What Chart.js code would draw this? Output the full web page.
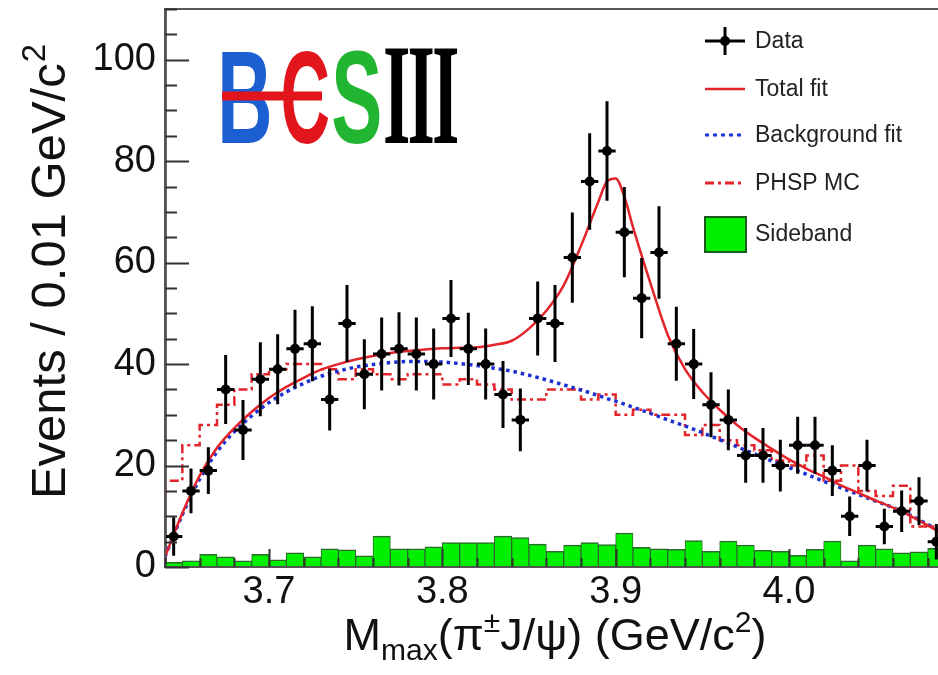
<!DOCTYPE html>
<html><head><meta charset="utf-8">
<script src="https://cdn.jsdelivr.net/npm/chart.js@4/dist/chart.umd.min.js"></script>
<style>
html,body{margin:0;padding:0;background:#fff;overflow:hidden;width:938px;height:675px}
#wrap{position:absolute;left:0;top:0;width:950px;height:675px}
</style>
</head><body><div id="wrap"><canvas id="c" width="950" height="675"></canvas></div>
<script>
// ---------- data ----------
const massBins = [3.645,3.655,3.665,3.675,3.685,3.695,3.705,3.715,3.725,3.735,
                  3.745,3.755,3.765,3.775,3.785,3.795,3.805,3.815,3.825,3.835,
                  3.845,3.855,3.865,3.875,3.885,3.895,3.905,3.915,3.925,3.935,
                  3.945,3.955,3.965,3.975,3.985,3.995,4.005,4.015,4.025,4.035,
                  4.045,4.055,4.065,4.075,4.085];
const dataEvents = [6,15,19,35,27,37,39,43,44,33,
                    48,38,42,43,42,40,49,43,40,34,
                    29,49,48,61,76,82,66,53,62,44,
                    40,32,29,22,22,20,24,24,19,10,
                    20,8,11,13,5];
const dataErrors = [3.8,4.4,4.6,6.8,5.9,7.3,6.9,7.7,7.4,6.1,
                    7.6,6.9,7.2,7.2,7.2,7.0,7.6,7.1,7.0,6.6,
                    6.2,7.3,7.6,8.9,9.5,9.8,8.9,7.9,9.1,7.3,
                    6.9,6.4,6.0,5.4,5.4,5.1,5.6,5.6,5.0,3.9,
                    5.1,3.5,4.1,4.7,3.5];
const phspMC = [14,17,24,28,32,35,38,39,40,40,
                39,37,39,38,37,38,38,36,37,36,
                35,33,33,35,35,33,34,30,31,30,
                30,26,28,25,24,23,21,20,22,17,
                20,15,14,16,8];
const sideband = [0.9,1.2,2.5,2.0,1.2,2.5,1.4,2.8,2.0,3.6,
                  3.4,2.2,6.1,3.6,3.6,4.0,4.8,4.8,4.8,6.1,
                  5.8,4.5,3.1,4.3,4.8,4.4,6.7,3.9,3.6,3.5,
                  5.2,3.1,5.1,4.3,3.3,3.1,2.3,3.5,5.1,1.2,
                  4.3,3.6,2.8,3.0,3.7];
const fitMass = [3.64,3.65,3.66,3.67,3.68,3.69,3.70,3.71,3.72,3.73,
                 3.74,3.75,3.76,3.77,3.78,3.79,3.80,3.81,3.82,3.83,
                 3.84,3.85,3.86,3.87,3.88,3.89,3.895,3.90,3.905,3.91,
                 3.92,3.93,3.94,3.95,3.96,3.97,3.98,3.99,4.00,4.01,
                 4.02,4.03,4.04,4.05,4.06,4.07,4.08,4.09];
const totalFit = [2,10.6,18,23.5,27.4,30.6,33.3,35.5,37.3,38.9,
                  40.0,40.9,41.6,42.2,42.6,42.9,43.1,43.2,43.3,43.8,
                  44.6,47,50.5,55.5,63.3,72,76,76.6,73,67,
                  56,45.8,39,34.5,31,28,25.5,23.3,21.2,19.4,
                  17.8,16.1,14.6,13.1,11.7,10.1,8.2,6.3];
const backgroundFit = [2,10.3,17.3,22.7,26.7,29.8,32.4,34.5,36.2,37.6,
                       38.6,39.4,39.9,40.3,40.5,40.5,40.4,40.1,39.7,39.2,
                       38.6,37.8,36.9,35.9,34.9,33.8,33.2,32.7,32.1,31.5,
                       30.3,29.0,27.8,26.5,25.1,23.7,22.3,20.9,19.6,18.3,
                       16.9,15.6,14.3,13.0,11.7,10.2,8.4,6.5];
const binWidth = 0.01;
const xTickValues = [3.7,3.8,3.9,4.0];
const yTickValues = [0,20,40,60,80,100];
const seriesNames = ['Data','Total fit','Background fit','PHSP MC','Sideband'];
const xTitleParts = ['M','max','(π','±','J/ψ) (GeV/c','2',')'];
const yTitleParts = ['Events / 0.01 GeV/c','2'];
const logoParts = ['B','C','S','III'];

// ---------- derived drawing structures ----------
const pts = (xs, ys) => xs.map((x, i) => ({x, y: ys[i]}));
const stepPts = ys => {
  const a = massBins.map((c, i) => ({x: c - binWidth/2, y: ys[i]}));
  a.push({x: massBins[massBins.length-1] + binWidth/2, y: ys[ys.length-1]});
  return a;
};

const FONT = "'Liberation Sans', Arial, Helvetica, sans-serif";
const RED = '#e3242b', BLUE = '#1c2fd0', GREEN = '#00f000';

const errorBars = {
  id: 'errorBars',
  afterDatasetsDraw(chart) {
    const {ctx, chartArea: a, scales: {x, y}} = chart;
    ctx.save();
    ctx.beginPath(); ctx.rect(a.left, a.top, a.right - a.left, a.bottom - a.top); ctx.clip();
    ctx.strokeStyle = '#000'; ctx.lineWidth = 3;
    massBins.forEach((c, i) => {
      const v = dataEvents[i], e = dataErrors[i];
      const px = x.getPixelForValue(c), py = y.getPixelForValue(v);
      ctx.beginPath();
      ctx.moveTo(px, y.getPixelForValue(v - e)); ctx.lineTo(px, y.getPixelForValue(v + e));
      ctx.moveTo(x.getPixelForValue(c - binWidth/2), py); ctx.lineTo(x.getPixelForValue(c + binWidth/2), py);
      ctx.stroke();
    });
    ctx.restore();
  }
};

const frameAndTicks = {
  id: 'frameAndTicks',
  afterDatasetsDraw(chart) {
    const {ctx, chartArea: a, scales: {x, y}} = chart;
    ctx.save();
    ctx.strokeStyle = '#555'; ctx.lineWidth = 2;
    ctx.strokeRect(a.left, a.top, a.right - a.left, a.bottom - a.top);
    ctx.strokeStyle = '#333'; ctx.lineWidth = 2;
    ctx.beginPath();
    for (let v = 0; v <= 110.001; v += 5) {
      const py = Math.round(y.getPixelForValue(v)) + 0.5;
      const len = (Math.abs(v % 20) < 1e-6) ? 24 : 12;
      ctx.moveTo(a.left, py); ctx.lineTo(a.left + len, py);
    }
    for (let k = 0; k <= 22; k++) {
      const v = 3.64 + k * 0.02;
      if (v > 4.09) break;
      const px = Math.round(x.getPixelForValue(v)) + 0.5;
      const major = xTickValues.some(t => Math.abs(t - v) < 1e-6);
      ctx.moveTo(px, a.bottom); ctx.lineTo(px, a.bottom - (major ? 18 : 9));
    }
    ctx.stroke();
    ctx.restore();
  }
};

const decorations = {
  id: 'decorations',
  afterDraw(chart) {
    const {ctx} = chart;
    ctx.save();
    ctx.fillStyle = '#111';
    ctx.textBaseline = 'alphabetic';
    // y title
    ctx.save();
    ctx.translate(65, 272);
    ctx.rotate(-Math.PI/2);
    ctx.font = `49px ${FONT}`;
    const w0 = ctx.measureText(yTitleParts[0]).width;
    ctx.font = `33px ${FONT}`;
    const w1 = ctx.measureText(yTitleParts[1]).width;
    let sx = -(w0 + w1) / 2;
    ctx.font = `49px ${FONT}`; ctx.fillText(yTitleParts[0], sx, 0);
    ctx.font = `33px ${FONT}`; ctx.fillText(yTitleParts[1], sx + w0 + 1, -20);
    ctx.restore();
    // x title
    const big = `45px ${FONT}`, small = `30px ${FONT}`;
    const specs = [[xTitleParts[0], big, 0], [xTitleParts[1], small, 10], [xTitleParts[2], big, 0],
                   [xTitleParts[3], small, -18], [xTitleParts[4], big, 0], [xTitleParts[5], small, -18], [xTitleParts[6], big, 0]];
    let total = 0;
    specs.forEach(s => { ctx.font = s[1]; total += ctx.measureText(s[0]).width; });
    let cx = 555 - total / 2;
    const base = 650;
    specs.forEach(s => { ctx.font = s[1]; ctx.fillText(s[0], cx, base + s[2]); cx += ctx.measureText(s[0]).width; });

    // BESIII logo
    const drawLetter = (t, font, color, left, scaleX) => {
      ctx.save();
      ctx.font = font; ctx.fillStyle = color; ctx.textBaseline = 'alphabetic';
      const m = ctx.measureText(t);
      ctx.translate(left, 143); ctx.scale(scaleX, 1);
      ctx.fillText(t, m.actualBoundingBoxLeft, 0);
      ctx.restore();
    };
    const lf = `bold 132px ${FONT}`;
    drawLetter(logoParts[0], lf, '#1b5fd2', 222, 0.58);
    drawLetter(logoParts[1], lf, '#e2141c', 283, 0.52);
    ctx.strokeStyle = '#e2141c'; ctx.lineWidth = 9;
    ctx.beginPath(); ctx.moveTo(222, 96); ctx.lineTo(322, 96); ctx.stroke();
    drawLetter(logoParts[2], lf, '#22b532', 333, 0.58);
    ctx.save();
    ctx.font = `bold 143px 'Liberation Serif', serif`;
    ctx.letterSpacing = '-6px';
    ctx.fillStyle = '#000'; ctx.textBaseline = 'alphabetic';
    const m3 = ctx.measureText(logoParts[3]);
    ctx.translate(385, 143); ctx.scale(72 / (m3.actualBoundingBoxRight + m3.actualBoundingBoxLeft), 1);
    ctx.fillText(logoParts[3], m3.actualBoundingBoxLeft, 0);
    ctx.restore();

    // legend
    const lx0 = 705, lx1 = 745, tx = 755;
    const rows = [41, 89, 135, 183, 234];
    ctx.font = `23px ${FONT}`; ctx.textBaseline = 'middle'; ctx.fillStyle = '#222';
    seriesNames.forEach((n, i) => ctx.fillText(n, tx, rows[i] + 1));
    ctx.lineCap = 'butt';
    ctx.strokeStyle = '#000'; ctx.lineWidth = 3;
    ctx.beginPath(); ctx.moveTo(lx0, rows[0]); ctx.lineTo(lx1, rows[0]);
    ctx.moveTo(725, rows[0] - 14); ctx.lineTo(725, rows[0] + 14); ctx.stroke();
    ctx.fillStyle = '#000'; ctx.beginPath(); ctx.arc(725, rows[0], 5, 0, Math.PI*2); ctx.fill();
    ctx.strokeStyle = RED; ctx.lineWidth = 2.5;
    ctx.beginPath(); ctx.moveTo(lx0, rows[1]); ctx.lineTo(lx1, rows[1]); ctx.stroke();
    ctx.strokeStyle = BLUE; ctx.lineWidth = 3; ctx.setLineDash([4, 4]);
    ctx.beginPath(); ctx.moveTo(lx0, rows[2]); ctx.lineTo(lx1, rows[2]); ctx.stroke();
    ctx.strokeStyle = RED; ctx.lineWidth = 3; ctx.setLineDash([9, 4, 3, 4]);
    ctx.beginPath(); ctx.moveTo(lx0, rows[3]); ctx.lineTo(lx1, rows[3]); ctx.stroke();
    ctx.setLineDash([]);
    ctx.fillStyle = GREEN; ctx.fillRect(705, 217, 41, 35);
    ctx.strokeStyle = '#1d5a1d'; ctx.lineWidth = 2; ctx.strokeRect(705, 217, 41, 35);
    ctx.restore();
  }
};

const noPad = s => { s.paddingTop = 0; s.paddingBottom = 0; s.paddingLeft = 0; s.paddingRight = 0; };

new Chart(document.getElementById('c'), {
  data: {
    datasets: [
      {type: 'scatter', label: seriesNames[0], data: pts(massBins, dataEvents),
       pointRadius: 5, pointBackgroundColor: '#000', pointBorderColor: '#000', pointBorderWidth: 0, order: 0},
      {type: 'line', label: seriesNames[1], data: pts(fitMass, totalFit), borderColor: RED, borderWidth: 2.5,
       pointRadius: 0, cubicInterpolationMode: 'monotone', fill: false, order: 1},
      {type: 'line', label: seriesNames[2], data: pts(fitMass, backgroundFit), borderColor: BLUE, borderWidth: 3.5,
       borderDash: [3.5, 4], pointRadius: 0, cubicInterpolationMode: 'monotone', fill: false, order: 2},
      {type: 'line', label: seriesNames[3], data: stepPts(phspMC), borderColor: RED, borderWidth: 2.5,
       borderDash: [9, 4, 3, 4], pointRadius: 0, stepped: 'after', fill: false, order: 3},
      {type: 'bar', label: seriesNames[4], data: pts(massBins, sideband), backgroundColor: GREEN,
       borderColor: '#2a6a2a', borderWidth: {top: 1.5, left: 1, right: 1, bottom: 0}, borderSkipped: false,
       barPercentage: 1.0, categoryPercentage: 1.0, order: 4}
    ]
  },
  options: {
    responsive: false, animation: false, devicePixelRatio: 1,
    layout: {padding: {left: 0, top: 9, right: 5, bottom: 0}},
    plugins: {legend: {display: false}, tooltip: {enabled: false}},
    scales: {
      x: {type: 'linear', min: 3.64, max: 4.09, offset: false,
          afterBuildTicks: s => { s.ticks = xTickValues.map(v => ({value: v})); },
          afterFit: s => { s.height = 108; noPad(s); },
          grid: {display: false, drawTicks: false}, border: {display: true, color: '#333', width: 2},
          ticks: {color: '#111', font: {family: FONT, size: 38, lineHeight: 1.2}, padding: 3,
                  maxRotation: 0, autoSkip: false, callback: v => Number(v).toFixed(1)}},
      y: {type: 'linear', min: 0, max: 110,
          afterBuildTicks: s => { s.ticks = yTickValues.map(v => ({value: v})); },
          afterFit: s => { s.width = 165; noPad(s); },
          grid: {display: false, drawTicks: false}, border: {display: true, color: '#666', width: 3},
          ticks: {color: '#111', font: {family: FONT, size: 38}, padding: 9, callback: v => String(v)}}
    }
  },
  plugins: [errorBars, frameAndTicks, decorations]
});
</script>
</body></html>
